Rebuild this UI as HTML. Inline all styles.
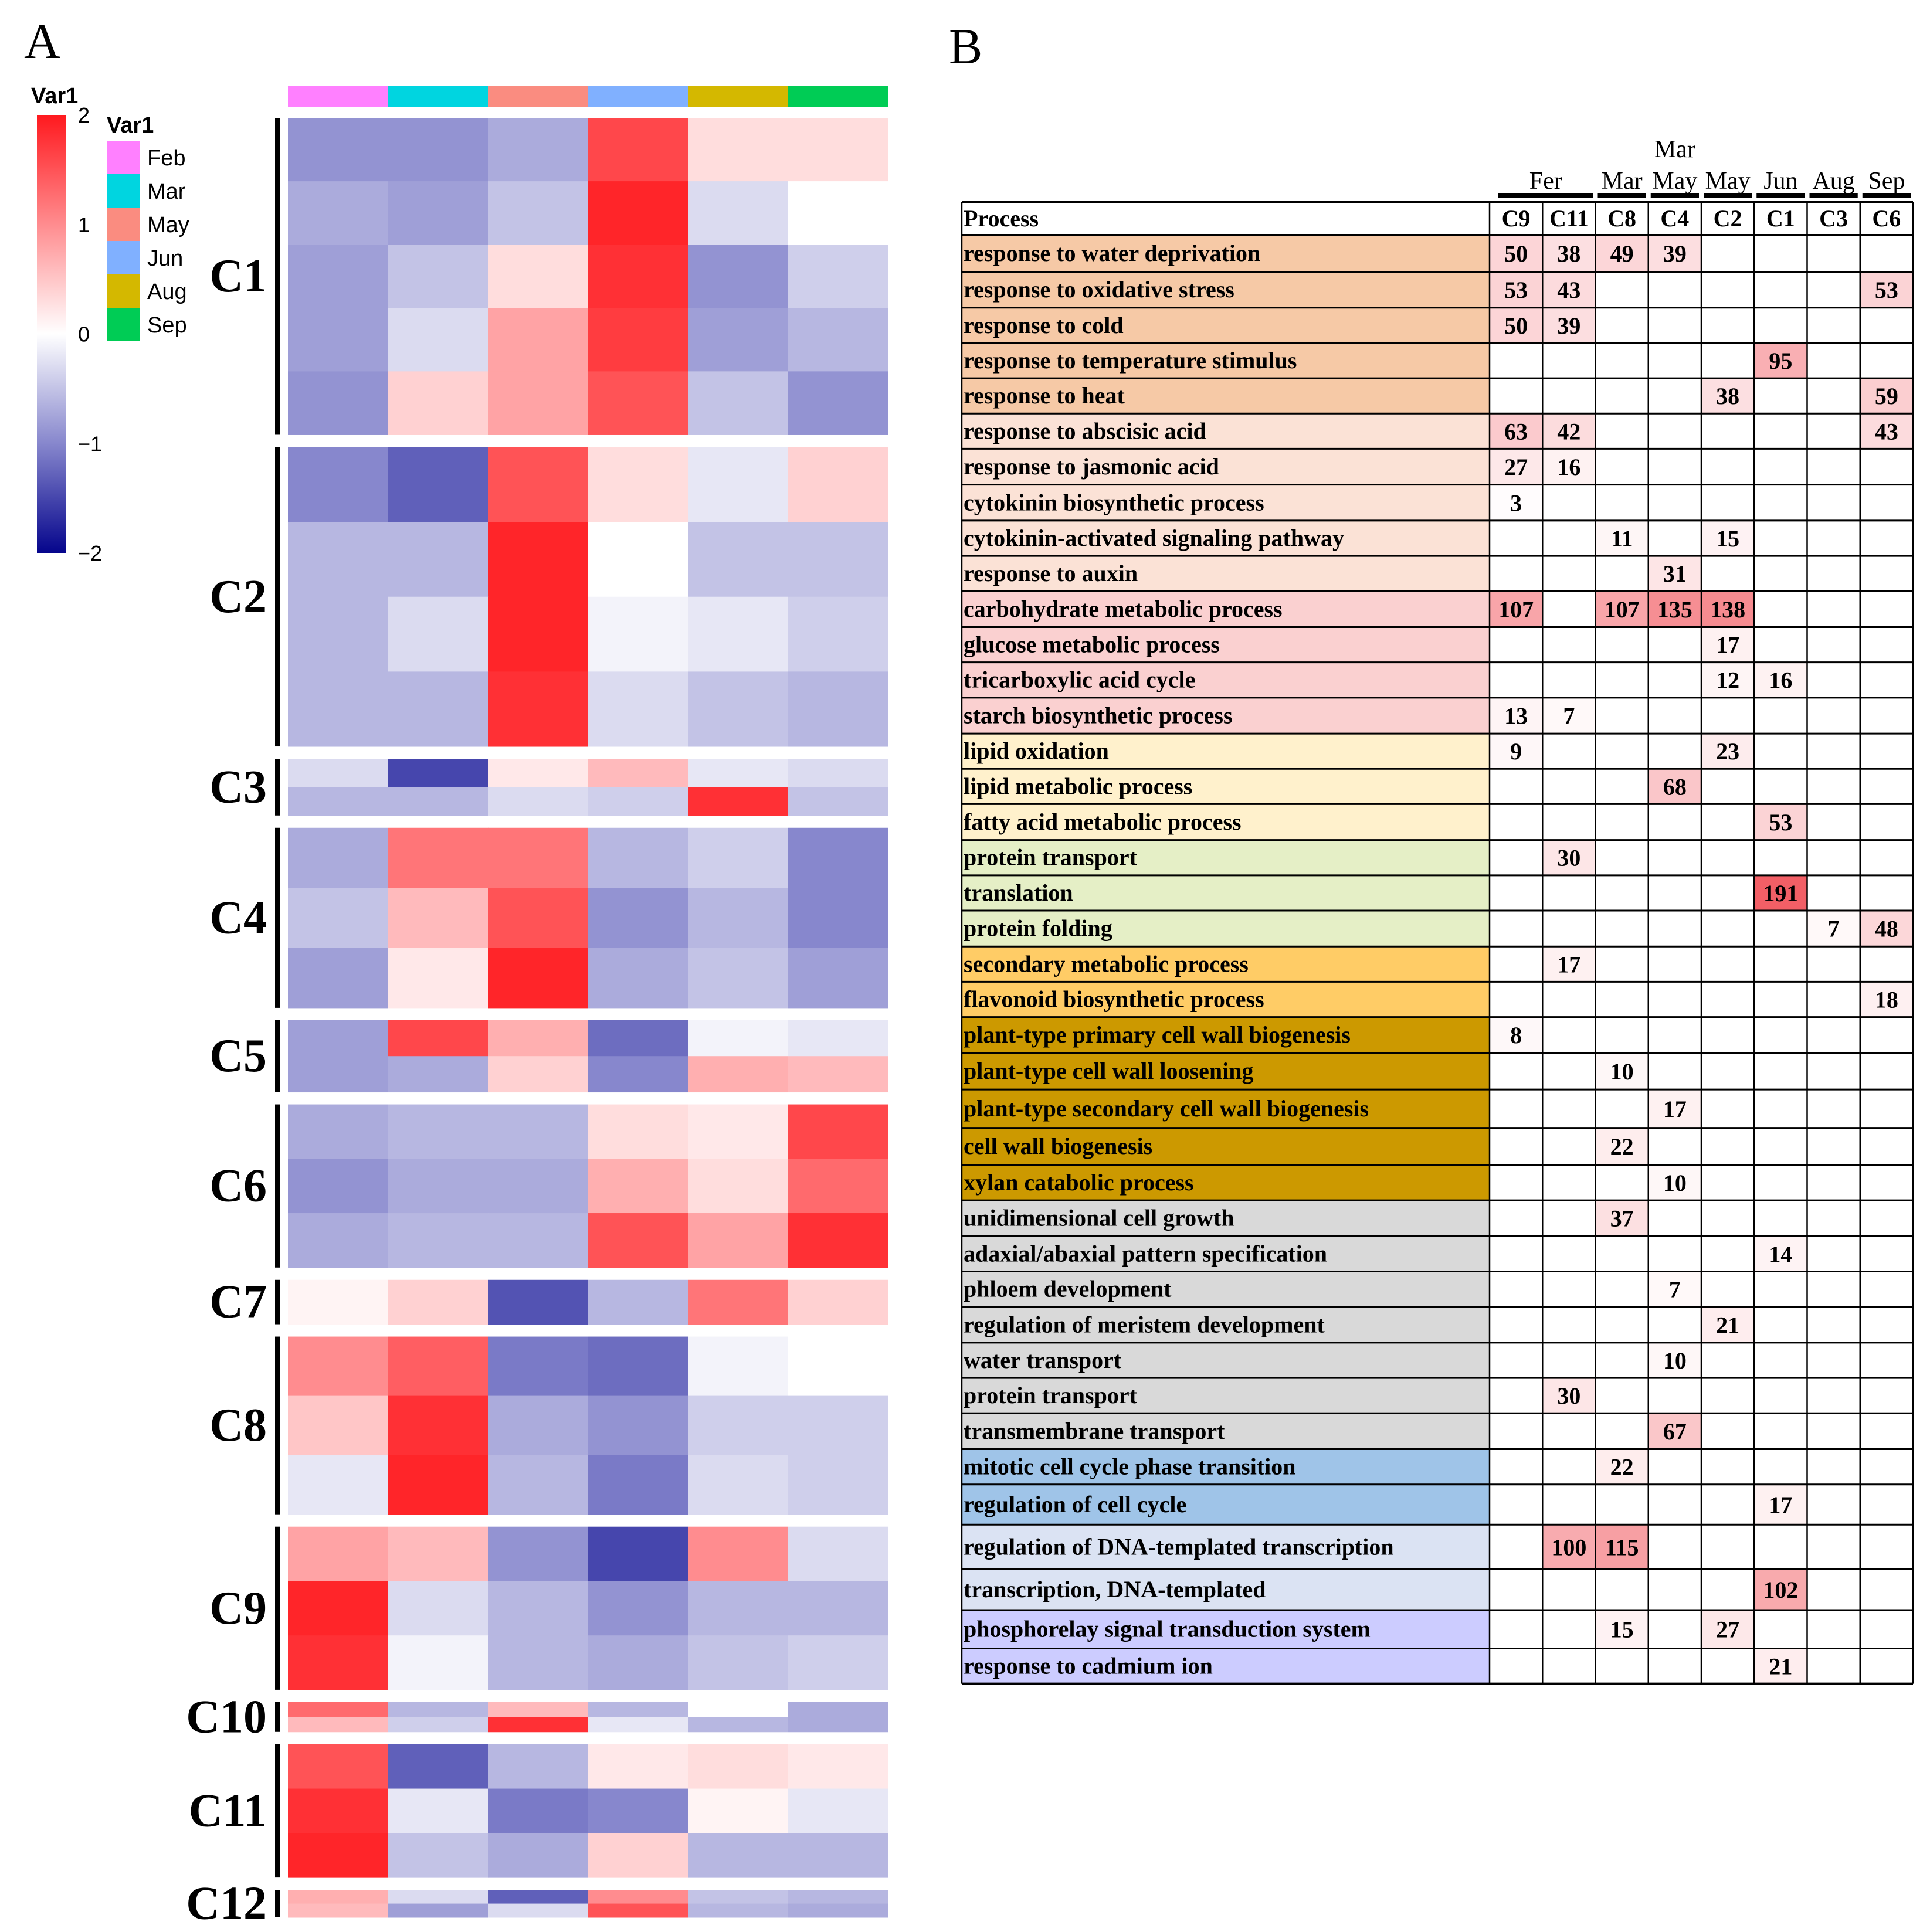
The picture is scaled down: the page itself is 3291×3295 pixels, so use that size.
<!DOCTYPE html>
<html><head><meta charset="utf-8"><style>
html,body{margin:0;padding:0;background:#fff}
svg{display:block}
text{font-family:"Liberation Serif",serif}
.sans{font-family:"Liberation Sans",sans-serif}
</style></head><body>
<svg id="fig" width="3291" height="3295" viewBox="0 0 3291 3295" xmlns="http://www.w3.org/2000/svg">
<rect width="3291" height="3295" fill="#fff"/>
<text x="41" y="99" font-size="86">A</text>
<text x="1618" y="108" font-size="86">B</text>
<g id="legend"></g>
<g id="heat"></g>
<g id="table"></g>
</svg>
<script>
const NS="http://www.w3.org/2000/svg";
// ---- heatmap data ----
const months=["Feb","Mar","May","Jun","Aug","Sep"];
const monthColors=["#ff80ff","#00d5e0","#fa8c80","#80b0ff","#d4b800","#00cc55"];
const clusters=["C1","C2","C3","C4","C5","C6","C7","C8","C9","C10","C11","C12"];
const clusterSize=[542,512,97,308,123,279,76,304,279,51,228,47];
const C1=[[-0.9,-0.9,-0.7,1.6,0.3,0.3],[-0.7,-0.8,-0.5,1.9,-0.3,0.0],[-0.8,-0.5,0.3,1.8,-0.9,-0.4],[-0.8,-0.3,0.8,1.7,-0.8,-0.6],[-0.9,0.4,0.8,1.5,-0.5,-0.9]];
const C2=[[-1.0,-1.3,1.5,0.3,-0.2,0.4],[-0.6,-0.6,1.9,0.0,-0.5,-0.5],[-0.6,-0.3,1.9,-0.1,-0.2,-0.4],[-0.6,-0.6,1.8,-0.3,-0.5,-0.6]];
const C3=[[-0.3,-1.5,0.2,0.6,-0.2,-0.3],[-0.6,-0.6,-0.3,-0.4,1.8,-0.5]];
const C4=[[-0.7,1.2,1.2,-0.6,-0.4,-1.0],[-0.5,0.6,1.5,-0.9,-0.6,-1.0],[-0.8,0.2,1.9,-0.7,-0.5,-0.8]];
const C5=[[-0.8,1.6,0.7,-1.2,-0.1,-0.2],[-0.8,-0.7,0.4,-1.0,0.7,0.6]];
const C6=[[-0.7,-0.6,-0.6,0.3,0.2,1.6],[-0.9,-0.7,-0.7,0.7,0.3,1.3],[-0.7,-0.6,-0.6,1.5,0.8,1.8]];
const C7=[[0.1,0.4,-1.4,-0.6,1.2,0.4]];
const C8=[[1.0,1.4,-1.1,-1.2,-0.1,0.0],[0.5,1.8,-0.7,-0.9,-0.4,-0.4],[-0.2,1.9,-0.6,-1.1,-0.3,-0.4]];
const C9=[[0.8,0.6,-0.9,-1.5,1.0,-0.3],[1.9,-0.3,-0.6,-0.9,-0.6,-0.6],[1.8,-0.1,-0.6,-0.7,-0.5,-0.4]];
const C10=[[1.3,-0.6,0.6,-0.6,0.0,-0.7],[0.6,-0.4,1.8,-0.2,-0.6,-0.7]];
const C11=[[1.5,-1.3,-0.6,0.2,0.3,0.2],[1.8,-0.2,-1.1,-1.0,0.1,-0.2],[1.9,-0.5,-0.7,0.4,-0.6,-0.6]];
const C12=[[0.7,-0.3,-1.3,1.0,-0.5,-0.6],[0.6,-0.8,-0.3,1.5,-0.6,-0.7]];
const clusterData=[C1,C2,C3,C4,C5,C6,C7,C8,C9,C10,C11,C12];
const legendTicks=[2,1,0,-1,-2];

function col(v){
  v=Math.max(-2,Math.min(2,v));
  let r,g,b;
  if(v>=0){const t=v/2;r=255;g=Math.round(255-t*(255-25));b=Math.round(255-t*(255-30));}
  else{const t=-v/2;
    if(t<=0.5){const u=t/0.5;r=Math.round(255-u*(255-135));g=Math.round(255-u*(255-135));b=Math.round(255-u*(255-205));}
    else{const u=(t-0.5)/0.5;r=Math.round(135-u*(135-5));g=Math.round(135-u*(135-5));b=Math.round(205-u*(205-140));}}
  return `rgb(${r},${g},${b})`;
}
function mk(tag,attrs,parent,txt){const e=document.createElementNS(NS,tag);for(const k in attrs)e.setAttribute(k,attrs[k]);if(txt!==undefined)e.textContent=txt;parent.appendChild(e);return e;}

// heatmap axes
const hx0=491,hx1=1514,hy0=201,hGap=21,hyEnd=3270;
const colW=(hx1-hx0)/months.length;
const totalSize=clusterSize.reduce((a,b)=>a+b,0);
const pxPerRow=(hyEnd-hy0-hGap*(clusters.length-1))/totalSize;
const xS=i=>hx0+i*colW;
const heat=document.getElementById('heat');
months.forEach((m,i)=>{
  const r=mk('rect',{x:xS(i),y:147,width:colW+0.5,height:35,fill:monthColors[i]},heat);
  
  
});
let yPos=hy0;
clusters.forEach((c,ci)=>{
  const h=clusterSize[ci]*pxPerRow;
  const segs=clusterData[ci];
  const sh=h/segs.length;
  segs.forEach((seg,si)=>{
    seg.forEach((v,mi)=>{
      const r=mk('rect',{x:xS(mi),y:yPos+si*sh,width:colW+0.5,height:sh+0.5,fill:col(v)},heat);
      
      
    });
  });
  const bar=mk('rect',{x:469,y:yPos,width:8,height:h,fill:'#000'},heat);
  
  
  const t=mk('text',{x:455,y:yPos+h/2+26,'font-size':80,'font-weight':'bold','text-anchor':'end'},heat,c);
  
  
  yPos+=h+hGap;
});

// legend
const lg=document.getElementById('legend');
const defs=mk('defs',{},lg);
const gr=mk('linearGradient',{id:'cb',x1:0,y1:0,x2:0,y2:1},defs);
for(let k=0;k<=20;k++){const v=2-k*0.2;mk('stop',{offset:(k/20),'stop-color':col(v)},gr);}
const t1=mk('text',{x:53,y:176,'font-size':38,'font-weight':'bold',class:'sans'},lg,'Var1');

const cb=mk('rect',{x:63,y:196,width:49,height:747,fill:'url(#cb)'},lg);

const cy=v=>196+(2-v)/4*747;
legendTicks.forEach(v=>{
  const t=mk('text',{x:133,y:cy(v)+13,'font-size':36,class:'sans'},lg,v<0?'\u2212'+(-v):String(v));
  
});
const t2=mk('text',{x:182,y:226,'font-size':38,'font-weight':'bold',class:'sans'},lg,'Var1');

months.forEach((m,i)=>{
  const r=mk('rect',{x:182,y:240+i*57,width:57,height:57,fill:monthColors[i]},lg);
  
  const t=mk('text',{x:251,y:240+i*57+42,'font-size':38,class:'sans'},lg,m);
  
});

// ---- table data ----
const tableCols=["C9","C11","C8","C4","C2","C1","C3","C6"];
const processes=["response to water deprivation","response to oxidative stress","response to cold","response to temperature stimulus","response to heat","response to abscisic acid","response to jasmonic acid","cytokinin biosynthetic process","cytokinin-activated signaling pathway","response to auxin","carbohydrate metabolic process","glucose metabolic process","tricarboxylic acid cycle","starch biosynthetic process","lipid oxidation","lipid metabolic process","fatty acid metabolic process","protein transport","translation","protein folding","secondary metabolic process","flavonoid biosynthetic process","plant-type primary cell wall biogenesis","plant-type cell wall loosening","plant-type secondary cell wall biogenesis","cell wall biogenesis","xylan catabolic process","unidimensional cell growth","adaxial/abaxial pattern specification","phloem development","regulation of meristem development","water transport","protein transport","transmembrane transport","mitotic cell cycle phase transition","regulation of cell cycle","regulation of DNA-templated transcription","transcription, DNA-templated","phosphorelay signal transduction system","response to cadmium ion"];
const values=[
[50,38,49,39,0,0,0,0],[53,43,0,0,0,0,0,53],[50,39,0,0,0,0,0,0],[0,0,0,0,0,95,0,0],[0,0,0,0,38,0,0,59],
[63,42,0,0,0,0,0,43],[27,16,0,0,0,0,0,0],[3,0,0,0,0,0,0,0],[0,0,11,0,15,0,0,0],[0,0,0,31,0,0,0,0],
[107,0,107,135,138,0,0,0],[0,0,0,0,17,0,0,0],[0,0,0,0,12,16,0,0],[13,7,0,0,0,0,0,0],[9,0,0,0,23,0,0,0],
[0,0,0,68,0,0,0,0],[0,0,0,0,0,53,0,0],[0,30,0,0,0,0,0,0],[0,0,0,0,0,191,0,0],[0,0,0,0,0,0,7,48],
[0,17,0,0,0,0,0,0],[0,0,0,0,0,0,0,18],[8,0,0,0,0,0,0,0],[0,0,10,0,0,0,0,0],[0,0,0,17,0,0,0,0],
[0,0,22,0,0,0,0,0],[0,0,0,10,0,0,0,0],[0,0,37,0,0,0,0,0],[0,0,0,0,0,14,0,0],[0,0,0,7,0,0,0,0],
[0,0,0,0,21,0,0,0],[0,0,0,10,0,0,0,0],[0,30,0,0,0,0,0,0],[0,0,0,67,0,0,0,0],[0,0,22,0,0,0,0,0],
[0,0,0,0,0,17,0,0],[0,100,115,0,0,0,0,0],[0,0,0,0,0,102,0,0],[0,0,15,0,27,0,0,0],[0,0,0,0,0,21,0,0]];
const groupColors=["#f6c9a6","#fbe2d6","#fad0d0","#fff1cc","#e5efc6","#ffcc66","#cc9900","#d9d9d9","#9fc4e8","#dbe3f3","#ccccff"];
const groupOf=[0,0,0,0,0,1,1,1,1,1,2,2,2,2,3,3,3,4,4,4,5,5,6,6,6,6,6,7,7,7,7,7,7,7,8,8,9,9,10,10];
const rowCenters=[205,234,263,291,320,348,377,406,435,463,492,521,549,578,607,635,664,693,721,750,779,807,836,865,895,927,955,984,1013,1041,1070,1099,1127,1156,1185,1213,1250,1285,1316,1347];
const groupHeads=["Fer","","Mar","May","May","Jun","Aug","Sep"];

const tb=document.getElementById('table');
const S=2.1115;
const tx0=1640,tx1=2540,tEnd=3262;
const cW=(tEnd-tx1)/tableCols.length;
const cx=i=>tx1+i*cW;
const hdrTop=344,hdrBot=401;
const bounds=[hdrBot];
for(let i=0;i<rowCenters.length-1;i++)bounds.push((rowCenters[i]+rowCenters[i+1])/2*S);
bounds.push(1360*S);
function cellFill(v){const t=Math.min(1,v/191);return `rgb(${Math.round(255-t*(255-242))},${Math.round(255-t*(255-95))},${Math.round(255-t*(255-102))})`;}
processes.forEach((p,i)=>{
  const y0=bounds[i],y1=bounds[i+1];
  const r=mk('rect',{x:tx0,y:y0,width:tx1-tx0,height:y1-y0,fill:groupColors[groupOf[i]]},tb);
  
  const t=mk('text',{x:tx0+3,y:(y0+y1)/2+13,'font-size':40,'font-weight':'bold'},tb,p);
  
  values[i].forEach((v,j)=>{
    if(!v)return;
    const c=mk('rect',{x:cx(j),y:y0,width:cW,height:y1-y0,fill:cellFill(v)},tb);
    
    const vt=mk('text',{x:cx(j)+cW/2,y:(y0+y1)/2+14,'font-size':40,'font-weight':'bold','text-anchor':'middle'},tb,String(v));
    
  });
});
const ph=mk('text',{x:tx0+3,y:hdrBot-15,'font-size':40,'font-weight':'bold'},tb,'Process');

tableCols.forEach((c,j)=>{
  const t=mk('text',{x:cx(j)+cW/2,y:hdrBot-15,'font-size':40,'font-weight':'bold','text-anchor':'middle'},tb,c);
  
});
bounds.forEach((b,i)=>{
  const l=mk('line',{x1:tx0,x2:tEnd,y1:b,y2:b,stroke:'#000','stroke-width':i==0||i==bounds.length-1?4:3},tb);
  
});
const topRule=mk('line',{x1:tx0,x2:tEnd,y1:hdrTop,y2:hdrTop,stroke:'#000','stroke-width':4},tb);

[tx0,tx1].concat(tableCols.map((c,j)=>cx(j+1))).forEach(x=>{
  const l=mk('line',{x1:x,x2:x,y1:hdrTop,y2:bounds[bounds.length-1],stroke:'#000','stroke-width':2.5},tb);
  
});
groupHeads.forEach((g,j)=>{
  if(!g)return;
  let xa=cx(j)+4,xb=cx(j+1)-4;
  if(g==='Fer'){xa=cx(0)+15;xb=cx(2)-4;}
  const t=mk('text',{x:(xa+xb)/2,y:322,'font-size':42,'text-anchor':'middle'},tb,g);
  
  const b=mk('rect',{x:xa,y:330,width:xb-xa,height:7,fill:'#000'},tb);
  
});
const marUpper=mk('text',{x:cx(3)+cW/2,y:268,'font-size':42,'text-anchor':'middle'},tb,'Mar');

</script>
</body></html>
